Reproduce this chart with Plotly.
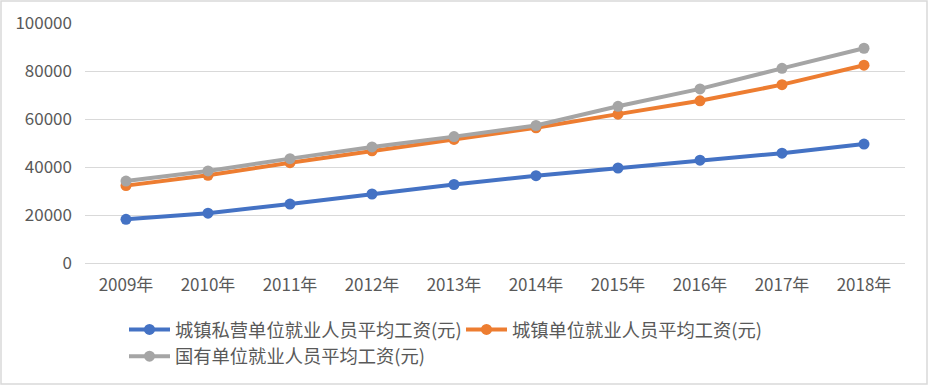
import plotly.graph_objects as go

years = ["2009年", "2010年", "2011年", "2012年", "2013年", "2014年", "2015年", "2016年", "2017年", "2018年"]
private_wage = [18199, 20759, 24556, 28752, 32706, 36390, 39589, 42833, 45761, 49575]
urban_wage = [32244, 36539, 41799, 46769, 51483, 56360, 62029, 67569, 74318, 82413]
state_wage = [34130, 38359, 43483, 48357, 52657, 57296, 65296, 72538, 81114, 89474]

series_names = ["城镇私营单位就业人员平均工资(元)", "城镇单位就业人员平均工资(元)", "国有单位就业人员平均工资(元)"]
series_values = [private_wage, urban_wage, state_wage]
colors = ["#4472C4", "#ED7D31", "#A5A5A5"]
y_ticks = [0, 20000, 40000, 60000, 80000, 100000]

FONT = "Noto Sans CJK SC, Noto Sans, sans-serif"
TXT = "#595959"

W, H = 928, 385
L, R, T, B = 85, 23, 23, 122

fig = go.Figure()
for name, vals, c in zip(series_names, series_values, colors):
    fig.add_trace(go.Scatter(
        x=years, y=vals, name=name, mode="lines+markers",
        line=dict(color=c, width=4),
        marker=dict(color=c, size=11),
    ))

pw = W - L - R
ph = H - T - B
fig.add_shape(type="rect", xref="paper", yref="paper",
              x0=(1 - L) / pw, x1=(W - 1 - L) / pw,
              y0=-(H - 1 - T - ph) / ph, y1=1 + (T - 1) / ph,
              line=dict(color="#D9D9D9", width=1.5), fillcolor="rgba(0,0,0,0)", layer="below")

fig.update_layout(
    width=W, height=H,
    margin=dict(l=L, r=R, t=T, b=B, autoexpand=False),
    paper_bgcolor="white", plot_bgcolor="white",
    font=dict(family=FONT, size=17, color=TXT),
    showlegend=True,
    legend=dict(orientation="h", x=(124 - L) / pw, xanchor="left",
                y=-(311 - T - ph) / ph, yanchor="top",
                font=dict(family=FONT, size=18.3, color=TXT),
                itemwidth=41,
                entrywidth=281, entrywidthmode="pixels",
                bgcolor="rgba(0,0,0,0)", tracegroupgap=0),
    xaxis=dict(type="category", range=[-0.5, 9.5], showgrid=False, showline=False,
               ticks="", ticklabelstandoff=10, tickfont=dict(size=17, color=TXT)),
    yaxis=dict(range=[0, 100000], tickvals=y_ticks, ticktext=[str(v) for v in y_ticks],
               showgrid=True, gridcolor="#D9D9D9", gridwidth=1.3,
               zeroline=True, zerolinecolor="#D9D9D9", zerolinewidth=1.3,
               showline=False, ticks="", ticklabelstandoff=12,
               tickfont=dict(size=17, color=TXT)),
)

fig.write_html("out.html", config={"displayModeBar": False},
               post_script="document.body.style.margin='0';document.body.style.overflow='hidden';")
